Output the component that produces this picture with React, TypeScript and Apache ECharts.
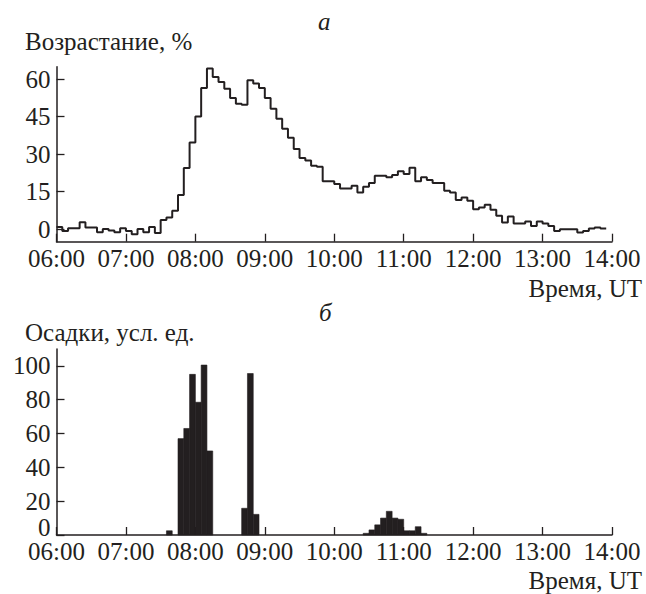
import React, { useEffect, useRef } from "react";
import * as echarts from "echarts";

// Time ticks (hours UT)
const timeTickLabels = ["06:00", "07:00", "08:00", "09:00", "10:00", "11:00", "12:00", "13:00", "14:00"];

// Panel a: growth, % — 5-minute bins starting at 06:00
const growthValues = [
  0.9, -0.7, 0.4, 0.4, 2.8, 0.7, 0.7, -1.2, 0.1, -0.5, -1.2, 0.4,
  -0.7, -2.0, 0.1, -1.2, 0.9, -1.5, 3.7, 4.7, 7.4, 13.7, 24.5, 34.7,
  45.1, 56.5, 64.3, 60.9, 58.9, 56.2, 52.5, 50.2, 49.8, 59.6, 58.3, 56.5,
  52.5, 48.2, 44.2, 40.2, 36.6, 32.1, 28.5, 27.5, 25.4, 25.0, 19.2, 19.2,
  18.1, 16.3, 16.3, 17.4, 14.7, 17.0, 18.5, 21.4, 21.4, 20.8, 21.7, 23.2,
  22.1, 24.6, 19.2, 20.8, 19.7, 18.5, 18.5, 15.4, 14.7, 11.7, 12.7, 11.4,
  8.0, 8.7, 9.8, 7.8, 5.4, 2.7, 5.1, 2.3, 2.3, 3.1, 1.3, 3.1,
  2.3, 1.3, -0.7, 0.0, 0.0, 0.0, -1.3, -0.7, 0.3, 0.7, 0.3,
];

// Panel б: precipitation, arb. units — bin start times and values
const precipTimes = [
  "07:35", "07:45", "07:50", "07:55", "08:00", "08:05", "08:10",
  "08:40", "08:45", "08:50",
  "10:25", "10:30", "10:35", "10:40", "10:45", "10:50", "10:55", "11:00", "11:05", "11:10", "11:15",
];
const precipValues = [
  2.5, 57, 63, 95, 78.5, 100.5, 49.7,
  15.8, 95.5, 12.2,
  1, 3, 6, 10, 14, 10, 9.3, 2.5, 2.5, 4.9, 1,
];

const growthTicks = [0, 15, 30, 45, 60];
const precipTicks = [0, 20, 40, 60, 80, 100];

const BIN = 5; // minutes per bin
const toMin = (t: string) => {
  const [h, m] = t.split(":").map(Number);
  return (h - 6) * 60 + m;
};

const INK = "#231f20";
const FONT = "Liberation Serif, Tinos, Times New Roman, Times, DejaVu Serif, Noto Serif, serif";
const FS = 25;

export default function App() {
  const ref = useRef<HTMLDivElement>(null);

  useEffect(() => {
    if (!ref.current) return;
    const chart = echarts.init(ref.current, null, { renderer: "svg" });

    const growthData: [number, number][] = growthValues.map((v, i) => [i * BIN, v]);
    growthData.push([growthValues.length * BIN, growthValues[growthValues.length - 1]]);

    const precipData = precipTimes.map((t, i) => [toMin(t), precipValues[i]]);

    const gridLeft = 56.5;
    const gridRight = 34;

    const xAxisBase = (gridIndex: number) => ({
      type: "value" as const,
      gridIndex,
      min: 0,
      max: 480,
      interval: 60,
      axisLine: { onZero: false, lineStyle: { color: INK, width: 1.5 } },
      axisTick: { inside: true, length: 8, lineStyle: { color: INK, width: 1.3 } },
      axisLabel: {
        color: INK,
        fontFamily: FONT,
        fontSize: FS,
        margin: 4,
        formatter: (v: number) => timeTickLabels[Math.round(v / 60)] ?? "",
      },
      splitLine: { show: false },
    });

    const option: any = {
      animation: false,
      backgroundColor: "#ffffff",
      textStyle: { fontFamily: FONT },
      grid: [
        { left: gridLeft, right: gridRight, top: 66.7, height: 175 },
        { left: gridLeft, right: gridRight, top: 349, height: 186 },
      ],
      xAxis: [xAxisBase(0), xAxisBase(1)],
      yAxis: [
        {
          type: "value",
          gridIndex: 0,
          min: -5,
          max: 65,
          axisLine: { show: true, lineStyle: { color: INK, width: 1.5 } },
          axisTick: { show: true, inside: true, length: 8, customValues: growthTicks, lineStyle: { color: INK, width: 1.3 } },
          axisLabel: { customValues: growthTicks, color: INK, fontFamily: FONT, fontSize: FS, margin: 6 },
          splitLine: { show: false },
        },
        {
          type: "value",
          gridIndex: 1,
          min: 0,
          max: 110,
          axisLine: { show: true, lineStyle: { color: INK, width: 1.5 } },
          axisTick: { show: true, inside: true, length: 8, customValues: precipTicks, lineStyle: { color: INK, width: 1.3 } },
          axisLabel: {
            customValues: precipTicks,
            color: INK,
            fontFamily: FONT,
            fontSize: FS,
            margin: 6,
            formatter: (v: number) => (v === 0 ? "{z|0}" : String(v)),
            rich: { z: { fontFamily: FONT, fontSize: FS, color: INK, padding: [0, 0, 16, 0] } },
          },
          splitLine: { show: false },
        },
      ],
      series: [
        {
          type: "line",
          xAxisIndex: 0,
          yAxisIndex: 0,
          step: "end",
          data: growthData,
          showSymbol: false,
          lineStyle: { color: INK, width: 2 },
        },
        {
          type: "custom",
          xAxisIndex: 1,
          yAxisIndex: 1,
          data: precipData,
          renderItem: (params: any, api: any) => {
            const x0 = api.value(0);
            const v = api.value(1);
            const p0 = api.coord([x0, v]);
            const p1 = api.coord([x0 + BIN, 0]);
            return {
              type: "rect",
              shape: { x: p0[0], y: p0[1], width: p1[0] - p0[0], height: p1[1] - p0[1] },
              style: { fill: INK, stroke: INK, lineWidth: 0.6 },
            };
          },
        },
      ],
      graphic: [
        { type: "text", left: 25, top: 29, style: { text: "Возрастание, %", fontFamily: FONT, fontSize: FS, fill: INK } },
        { type: "text", left: 318, top: 9, style: { text: "а", fontFamily: FONT, fontStyle: "italic", fontSize: FS, fill: INK } },
        { type: "text", right: 4, top: 276, style: { text: "Время, UT", fontFamily: FONT, fontSize: FS, fill: INK } },
        { type: "text", left: 25, top: 320, style: { text: "Осадки, усл. ед.", fontFamily: FONT, fontSize: FS, fill: INK } },
        { type: "text", left: 319, top: 300, style: { text: "б", fontFamily: FONT, fontStyle: "italic", fontSize: FS, fill: INK } },
        { type: "text", right: 4, top: 568, style: { text: "Время, UT", fontFamily: FONT, fontSize: FS, fill: INK } },
      ],
    };

    chart.setOption(option);
    return () => chart.dispose();
  }, []);

  return (
    <div
      ref={ref}
      style={{ position: "fixed", left: 0, top: 0, width: 646, height: 594, background: "#fff" }}
    />
  );
}
